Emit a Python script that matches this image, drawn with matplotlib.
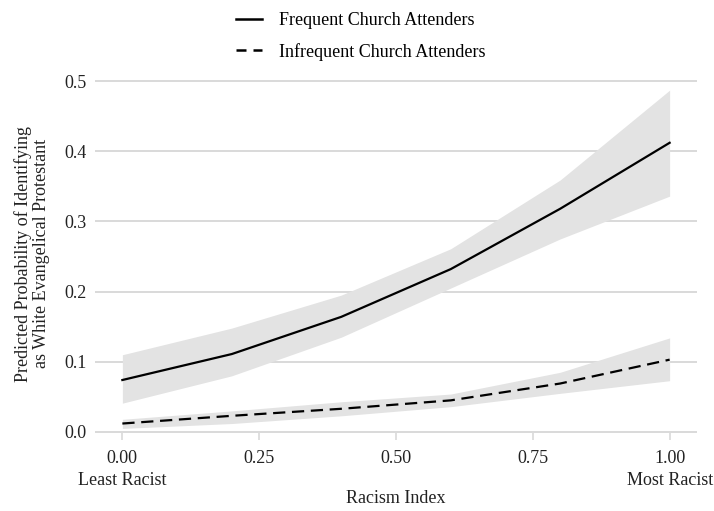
import matplotlib
matplotlib.use("Agg")
import matplotlib.pyplot as plt
from matplotlib.lines import Line2D

x = [0.0, 0.2, 0.4, 0.6, 0.8, 1.0]
freq = [0.074, 0.111, 0.164, 0.232, 0.318, 0.412]
freq_lo = [0.041, 0.080, 0.135, 0.205, 0.275, 0.336]
freq_hi = [0.110, 0.148, 0.195, 0.261, 0.359, 0.487]
infreq = [0.012, 0.023, 0.033, 0.045, 0.069, 0.103]
infreq_lo = [0.005, 0.012, 0.023, 0.036, 0.055, 0.073]
infreq_hi = [0.018, 0.030, 0.043, 0.054, 0.085, 0.134]
xticks = [0.0, 0.25, 0.5, 0.75, 1.0]
xticklabels = ["0.00\nLeast Racist", "0.25", "0.50", "0.75", "1.00\nMost Racist"]
yticks = [0.0, 0.1, 0.2, 0.3, 0.4, 0.5]
yticklabels = ["0.0", "0.1", "0.2", "0.3", "0.4", "0.5"]
series_names = ["Frequent Church Attenders", "Infrequent Church Attenders"]

plt.rcParams['font.family'] = ['Liberation Serif', 'DejaVu Serif']

fig = plt.figure(figsize=(7.14, 5.11), dpi=100)
ax = fig.add_axes([95/714, 1 - 433/511, (697 - 95)/714, (433 - 74)/511])

band_color = "#e3e3e3"
dash = (0, (5.5, 3))
ax.fill_between(x, freq_lo, freq_hi, color=band_color, lw=0, zorder=2)
ax.fill_between(x, infreq_lo, infreq_hi, color=band_color, lw=0, zorder=2)
ax.plot(x, freq, color="black", lw=1.6, zorder=3)
ax.plot(x, infreq, color="black", lw=1.6, ls=dash, zorder=3)

ax.set_xlim(-0.05, 1.05)
ax.set_ylim(-0.0015, 0.51)
ax.set_xticks(xticks)
ax.set_xticklabels(xticklabels, fontsize=13, linespacing=1.4)
ax.set_yticks(yticks)
ax.set_yticklabels(yticklabels, fontsize=13)
ax.grid(axis="y", color="#d9d9d9", lw=1.4, zorder=1)
ax.grid(axis="x", visible=False)
for s in ax.spines.values():
    s.set_visible(False)
ax.tick_params(axis="x", length=5, color="#d9d9d9", width=1.2, pad=7, labelcolor="#222222")
ax.tick_params(axis="y", length=0, pad=6, labelcolor="#222222")
ax.set_xlabel("Racism Index", fontsize=13, labelpad=1, color="#222222")
ax.set_ylabel("Predicted Probability of Identifying\nas White Evangelical Protestant",
              fontsize=13, labelpad=10, color="#222222", linespacing=1.1)

handles = [Line2D([], [], color="black", lw=1.8),
           Line2D([], [], color="black", lw=1.8, ls=(0, (4, 2.8)))]
fig.legend(handles, series_names, loc="upper center", bbox_to_anchor=(0.505, 1.008),
           frameon=False, fontsize=13, handlelength=1.45, handletextpad=0.9,
           labelspacing=0.75, ncol=1)

fig.savefig("out.png", dpi=100)
